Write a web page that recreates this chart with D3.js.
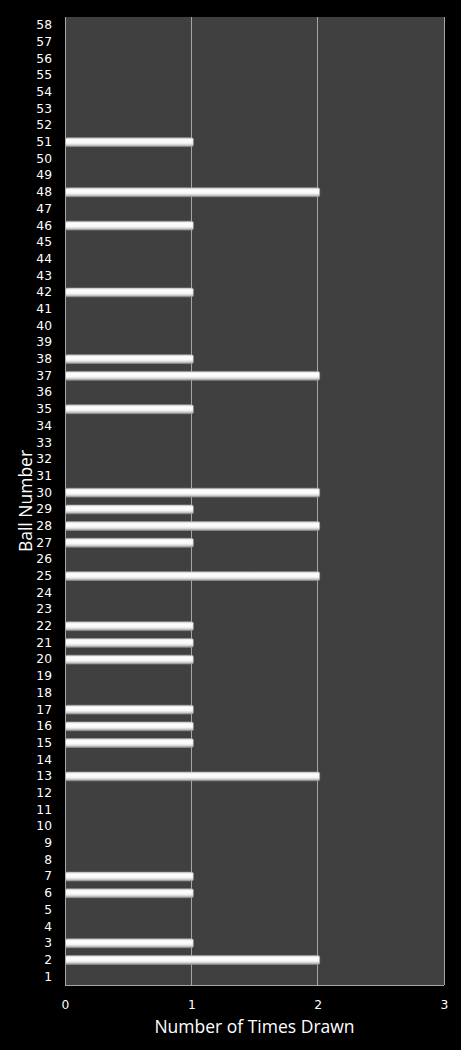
<!DOCTYPE html>
<html>
<head>
<meta charset="utf-8">
<script src="https://cdn.jsdelivr.net/npm/d3@7"></script>
<style>
  html, body { margin: 0; padding: 0; background: #000; }
  svg { display: block; }
</style>
</head>
<body>
<div id="chart"></div>
<script>
const balls = d3.range(1, 59);
const drawnBalls = [2, 3, 6, 7, 13, 15, 16, 17, 20, 21, 22, 25, 27, 28, 29, 30, 35, 37, 38, 42, 46, 48, 51];
const drawnCounts = [2, 1, 1, 1, 2, 1, 1, 1, 1, 1, 1, 2, 1, 2, 1, 2, 1, 2, 1, 1, 1, 2, 1];
const xTicks = [0, 1, 2, 3];
const xTitle = "Number of Times Drawn";
const yTitle = "Ball Number";

const countMap = new Map(drawnBalls.map((b, i) => [b, drawnCounts[i]]));
const data = balls.map(b => ({ ball: b, count: countMap.get(b) || 0 }));

const W = 461, H = 1050;
const margin = { left: 65, right: 17, top: 17, bottom: 65 };

const svg = d3.select("#chart").append("svg")
  .attr("width", W).attr("height", H)
  .style("background", "#000");

const x = d3.scaleLinear().domain([0, 3]).range([margin.left, W - margin.right]);
const y = d3.scaleBand().domain(balls.map(String)).range([H - margin.bottom, margin.top]).paddingInner(0.47).paddingOuter(0.235);

const defs = svg.append("defs");
const grad = defs.append("linearGradient").attr("id", "barGrad")
  .attr("x1", 0).attr("y1", 0).attr("x2", 0).attr("y2", 1);
[["0%", "#d6d6d6"], ["25%", "#ffffff"], ["60%", "#f8f8f8"], ["82%", "#d0d0d0"], ["100%", "#909090"]]
  .forEach(([o, c]) => grad.append("stop").attr("offset", o).attr("stop-color", c));

// plot background
svg.append("rect")
  .attr("x", x(0)).attr("y", margin.top)
  .attr("width", x(3) - x(0)).attr("height", H - margin.bottom - margin.top)
  .attr("fill", "#404040");

// gridlines
svg.append("g").selectAll("line").data(xTicks).join("line")
  .attr("x1", d => x(d)).attr("x2", d => x(d))
  .attr("y1", margin.top).attr("y2", H - margin.bottom)
  .attr("stroke", "#a6a6a6").attr("stroke-width", 1)
  .attr("shape-rendering", "crispEdges");

// bottom border
svg.append("line")
  .attr("x1", x(0)).attr("x2", x(3))
  .attr("y1", H - margin.bottom).attr("y2", H - margin.bottom)
  .attr("stroke", "#a6a6a6").attr("shape-rendering", "crispEdges");

// bars
svg.append("g").selectAll("rect").data(data.filter(d => d.count > 0)).join("rect")
  .attr("x", x(0) + 0.5)
  .attr("y", d => y(String(d.ball)))
  .attr("width", d => x(d.count) - x(0) + 1.5)
  .attr("height", y.bandwidth())
  .attr("rx", 1.5)
  .attr("fill", "url(#barGrad)")
  .attr("stroke", "#a0a0a0").attr("stroke-width", 0.6);

// y axis labels
const yAxis = d3.axisLeft(y).tickSize(0).tickPadding(0);
const gy = svg.append("g").attr("transform", `translate(${margin.left - 13},0)`).call(yAxis);
gy.select(".domain").remove();
gy.selectAll("text")
  .attr("fill", "#ffffff")
  .style("font-family", "'DejaVu Sans', Verdana, sans-serif")
  .style("font-size", "12.3px");

// x axis labels
const xAxis = d3.axisBottom(x).tickValues(xTicks).tickFormat(d3.format("d")).tickSize(0).tickPadding(0);
const gx = svg.append("g").attr("transform", `translate(0,${H - margin.bottom + 15})`).call(xAxis);
gx.select(".domain").remove();
gx.selectAll("text")
  .attr("fill", "#ffffff")
  .style("font-family", "'DejaVu Sans', Verdana, sans-serif")
  .style("font-size", "12.3px");

// titles
svg.append("text")
  .attr("x", (x(0) + x(3)) / 2).attr("y", 1033)
  .attr("text-anchor", "middle")
  .attr("fill", "#ffffff")
  .style("font-family", "'Open Sans', 'Segoe UI', sans-serif")
  .style("font-size", "17.5px")
  .text(xTitle);

svg.append("text")
  .attr("transform", `translate(32,${(margin.top + H - margin.bottom) / 2}) rotate(-90)`)
  .attr("text-anchor", "middle")
  .attr("fill", "#ffffff")
  .style("font-family", "'Open Sans', 'Segoe UI', sans-serif")
  .style("font-size", "17.5px")
  .text(yTitle);
</script>
</body>
</html>
